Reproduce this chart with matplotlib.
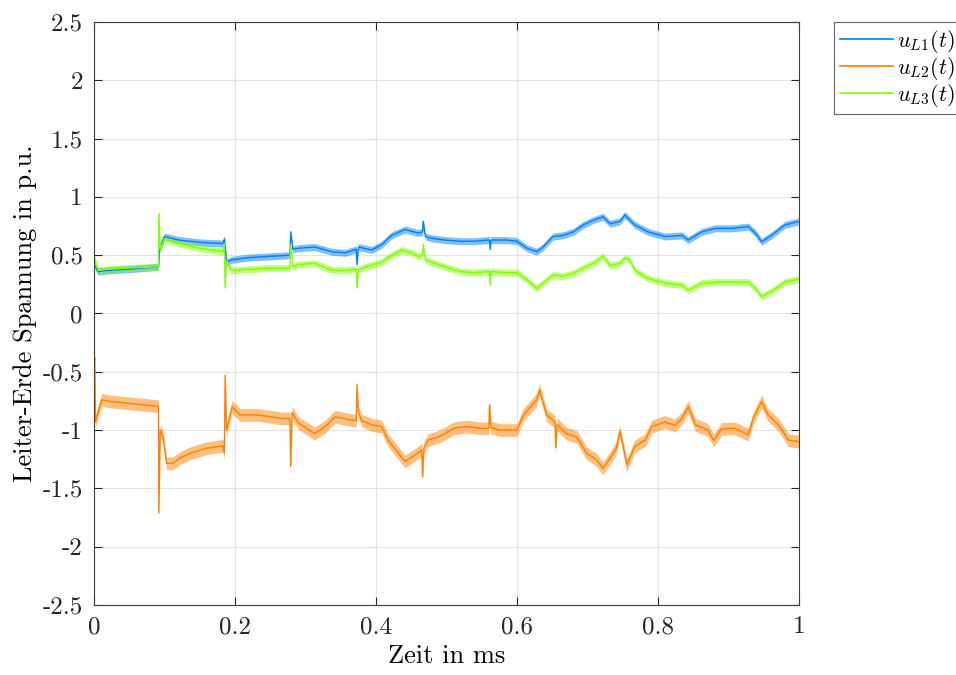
import matplotlib
matplotlib.use("Agg")
import matplotlib.pyplot as plt

plt.rcParams["font.family"] = "serif"
plt.rcParams["font.serif"] = ["cmr10"]
plt.rcParams["mathtext.fontset"] = "cm"
plt.rcParams["axes.unicode_minus"] = False

# L1 (blue)
t_l1 = [0, 0.002, 0.006, 0.02, 0.05, 0.09, 0.0915, 0.093, 0.097, 0.1, 0.12, 0.15, 0.183,
        0.185, 0.188, 0.195, 0.22, 0.25, 0.278, 0.279, 0.282, 0.29, 0.313, 0.337, 0.356,
        0.372, 0.373, 0.375, 0.394, 0.408, 0.422, 0.441, 0.46, 0.466, 0.467, 0.47, 0.479,
        0.498, 0.519, 0.538, 0.561, 0.562, 0.563, 0.585, 0.60, 0.614, 0.628, 0.637, 0.651,
        0.665, 0.68, 0.694, 0.708, 0.722, 0.732, 0.746, 0.753, 0.767, 0.786, 0.81, 0.834,
        0.843, 0.862, 0.881, 0.905, 0.928, 0.938, 0.947, 0.961, 0.98, 1.0]
u_l1 = [0.45, 0.40, 0.36, 0.37, 0.38, 0.40, 0.40, 0.55, 0.62, 0.66, 0.63, 0.61, 0.60,
        0.64, 0.44, 0.46, 0.48, 0.49, 0.50, 0.70, 0.55, 0.56, 0.57, 0.53, 0.52,
        0.55, 0.42, 0.57, 0.545, 0.59, 0.67, 0.72, 0.69, 0.70, 0.79, 0.66, 0.645,
        0.63, 0.62, 0.62, 0.63, 0.55, 0.63, 0.63, 0.62, 0.56, 0.53, 0.57, 0.66,
        0.67, 0.70, 0.76, 0.80, 0.83, 0.77, 0.79, 0.845, 0.76, 0.70, 0.66, 0.67,
        0.63, 0.70, 0.73, 0.73, 0.745, 0.69, 0.615, 0.67, 0.76, 0.79]

# L3 (green)
t_l3 = [0, 0.001, 0.003, 0.006, 0.02, 0.05, 0.09, 0.0915, 0.092, 0.094, 0.097, 0.1, 0.12,
        0.15, 0.183, 0.185, 0.186, 0.188, 0.195, 0.22, 0.25, 0.278, 0.279, 0.282, 0.29,
        0.313, 0.337, 0.356, 0.372, 0.373, 0.375, 0.394, 0.408, 0.422, 0.437, 0.451, 0.46,
        0.466, 0.467, 0.47, 0.479, 0.498, 0.519, 0.538, 0.561, 0.562, 0.563, 0.585, 0.60,
        0.614, 0.628, 0.637, 0.651, 0.665, 0.68, 0.694, 0.708, 0.722, 0.732, 0.746, 0.753,
        0.76, 0.767, 0.786, 0.81, 0.834, 0.843, 0.862, 0.881, 0.905, 0.928, 0.938, 0.947,
        0.961, 0.98, 1.0]
u_l3 = [0.20, 0.47, 0.42, 0.37, 0.38, 0.39, 0.40, 0.40, 0.86, 0.55, 0.60, 0.64, 0.60,
        0.56, 0.53, 0.60, 0.22, 0.45, 0.37, 0.38, 0.39, 0.39, 0.59, 0.40, 0.42,
        0.43, 0.373, 0.37, 0.38, 0.22, 0.38, 0.415, 0.44, 0.50, 0.545, 0.52, 0.49,
        0.50, 0.59, 0.46, 0.44, 0.40, 0.36, 0.35, 0.36, 0.245, 0.36, 0.35, 0.35,
        0.29, 0.215, 0.26, 0.33, 0.32, 0.345, 0.39, 0.43, 0.49, 0.41, 0.43, 0.475,
        0.46, 0.37, 0.30, 0.26, 0.245, 0.20, 0.26, 0.27, 0.27, 0.27, 0.215, 0.145,
        0.19, 0.27, 0.295]

# L2 (orange)
t_l2 = [0, 0.0005, 0.001, 0.002, 0.004, 0.011, 0.023, 0.041, 0.065, 0.091, 0.0915, 0.092,
        0.094, 0.098, 0.103, 0.112, 0.122, 0.136, 0.16, 0.183, 0.185, 0.186, 0.188, 0.196,
        0.207, 0.231, 0.25, 0.266, 0.278, 0.279, 0.281, 0.29, 0.313, 0.328, 0.342, 0.361,
        0.372, 0.373, 0.375, 0.38, 0.394, 0.408, 0.417, 0.432, 0.441, 0.455, 0.465, 0.466,
        0.468, 0.474, 0.488, 0.498, 0.51, 0.529, 0.548, 0.560, 0.561, 0.563, 0.576, 0.60,
        0.609, 0.628, 0.632, 0.642, 0.654, 0.655, 0.657, 0.67, 0.685, 0.699, 0.713, 0.722,
        0.732, 0.741, 0.746, 0.756, 0.767, 0.782, 0.791, 0.81, 0.824, 0.834, 0.843, 0.853,
        0.871, 0.879, 0.89, 0.909, 0.928, 0.935, 0.947, 0.956, 0.971, 0.985, 1.0]
u_l2 = [0.0, -0.40, -0.38, -0.93, -0.885, -0.74, -0.755, -0.765, -0.78, -0.795, -0.80, -1.71,
        -1.00, -1.06, -1.285, -1.285, -1.24, -1.20, -1.155, -1.135, -1.20, -0.53, -1.0, -0.80,
        -0.87, -0.87, -0.885, -0.90, -0.90, -1.31, -0.85, -0.94, -1.03, -0.97, -0.885, -0.91,
        -0.92, -0.61, -0.85, -0.92, -0.955, -0.97, -1.085, -1.20, -1.27, -1.215, -1.17, -1.40,
        -1.15, -1.085, -1.06, -1.03, -0.985, -0.97, -0.985, -0.985, -0.785, -0.98, -1.00, -1.00,
        -0.87, -0.74, -0.655, -0.87, -0.93, -1.15, -0.95, -1.03, -1.06, -1.20, -1.255, -1.33,
        -1.24, -1.155, -1.01, -1.30, -1.14, -1.085, -0.97, -0.93, -0.96, -0.90, -0.80, -0.955,
        -1.00, -1.09, -0.99, -0.985, -1.04, -0.90, -0.755, -0.87, -0.955, -1.085, -1.10]

# approximate half-width of the high-frequency ripple on each trace
ripple_l1 = 0.03
ripple_l3 = 0.03
ripple_l2 = 0.055

yticks = [-2.5, -2, -1.5, -1, -0.5, 0, 0.5, 1, 1.5, 2, 2.5]
ytick_labels = ["-2.5", "-2", "-1.5", "-1", "-0.5", "0", "0.5", "1", "1.5", "2", "2.5"]
xticks = [0, 0.2, 0.4, 0.6, 0.8, 1]
xtick_labels = ["0", "0.2", "0.4", "0.6", "0.8", "1"]

c_l1 = "#0080ff"
c_l2 = "#ff8000"
c_l3 = "#80ff00"

fig = plt.figure(figsize=(9.56, 6.75), dpi=100)
ax = fig.add_axes([94 / 956, 70 / 675, 705 / 956, 583 / 675])

series = [
    (t_l1, u_l1, ripple_l1, c_l1, r"$u_{L1}(t)$"),
    (t_l2, u_l2, ripple_l2, c_l2, r"$u_{L2}(t)$"),
    (t_l3, u_l3, ripple_l3, c_l3, r"$u_{L3}(t)$"),
]
for t, u, r, c, label in series:
    lo = [v - r for v in u]
    hi = [v + r for v in u]
    ax.fill_between(t, lo, hi, color=c, alpha=0.5, linewidth=0)
    ax.plot(t, u, color=c, linewidth=1.0, label=label)

ax.set_xlim(0, 1)
ax.set_ylim(-2.5, 2.5)
ax.set_xticks(xticks)
ax.set_xticklabels(xtick_labels)
ax.set_yticks(yticks)
ax.set_yticklabels(ytick_labels)
ax.tick_params(direction="in", length=6, width=0.8, colors="#262626", labelsize=18,
               top=True, right=True, pad=8)
ax.grid(True, color="#e3e3e3", linewidth=0.8)
ax.set_axisbelow(True)
for s in ax.spines.values():
    s.set_color("#404040")
    s.set_linewidth(0.8)

ax.set_xlabel("Zeit in ms", fontsize=19, labelpad=4)
ax.set_ylabel("Leiter-Erde Spannung in p.u.", fontsize=19, labelpad=4)

leg = ax.legend(loc="upper left", bbox_to_anchor=(834 / 956, 653 / 675),
                bbox_transform=fig.transFigure, fontsize=16, frameon=True,
                fancybox=False, borderaxespad=0, handlelength=2.4,
                handletextpad=0.18, labelspacing=0.0, borderpad=0.25)
leg.get_frame().set_edgecolor("#404040")
leg.get_frame().set_linewidth(0.8)
for line, c in zip(leg.get_lines(), [c_l1, c_l2, c_l3]):
    line.set_color(c)
    line.set_linewidth(1.2)

fig.savefig("out.png", dpi=100)
plt.close(fig)
